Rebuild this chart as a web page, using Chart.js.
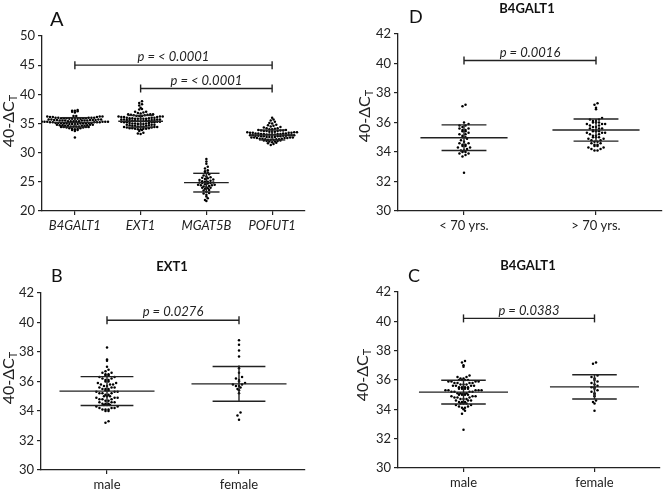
<!DOCTYPE html>
<html>
<head>
<meta charset="utf-8">
<script src="https://cdn.jsdelivr.net/npm/chart.js@4"></script>
<style>
  body { margin: 0; background: #fff; }
  canvas { position: absolute; }
</style>
</head>
<body>
<canvas id="panel-a" width="332" height="245" style="left:0;top:0"></canvas>
<canvas id="panel-d" width="332" height="245" style="left:332px;top:0"></canvas>
<canvas id="panel-b" width="332" height="245" style="left:0;top:245px"></canvas>
<canvas id="panel-c" width="332" height="245" style="left:332px;top:245px"></canvas>
<script>
// values (40 - delta Ct)
const b4galt1Male = [37.3, 37.2, 37.0, 36.9, 36.3, 36.2, 36.2, 36.1, 36.1, 36.0, 36.0, 36.0, 36.0,
  35.9, 35.9, 35.9, 35.9, 35.8, 35.8, 35.8, 35.8, 35.7, 35.7, 35.7, 35.6, 35.6, 35.6, 35.6,
  35.5, 35.5, 35.5, 35.5, 35.4, 35.4, 35.4, 35.4, 35.3, 35.3, 35.3, 35.3, 35.3, 35.2, 35.2,
  35.2, 35.2, 35.1, 35.1, 35.1, 35.1, 35.0, 35.0, 35.0, 35.0, 34.9, 34.9, 34.9, 34.8, 34.8,
  34.8, 34.7, 34.7, 34.7, 34.6, 34.6, 34.6, 34.5, 34.5, 34.5, 34.4, 34.4, 34.4, 34.3, 34.3,
  34.2, 34.2, 34.1, 34.1, 34.0, 33.9, 33.7, 32.6];
const b4galt1Female = [37.2, 37.1, 36.3, 36.2, 36.1, 36.0, 35.9, 35.8, 35.7, 35.6, 35.5, 35.5,
  35.4, 35.3, 35.2, 35.1, 35.0, 34.9, 34.6, 34.5, 34.4, 33.9];
const b4galt1Under70 = [37.2, 37.1, 36.0, 35.9, 35.8, 35.8, 35.7, 35.6, 35.6, 35.5, 35.5, 35.4,
  35.4, 35.3, 35.2, 35.2, 35.1, 35.0, 35.0, 34.9, 34.8, 34.7, 34.6, 34.6, 34.5, 34.5, 34.4,
  34.4, 34.3, 34.3, 34.2, 34.1, 34.1, 34.0, 34.0, 33.9, 33.9, 33.8, 33.7, 32.6];
const b4galt1Over70 = [37.3, 37.2, 37.0, 36.9, 36.3, 36.2, 36.2, 36.1, 36.1, 36.0, 36.0, 36.0,
  35.9, 35.9, 35.9, 35.8, 35.8, 35.7, 35.7, 35.6, 35.6, 35.6, 35.5, 35.5, 35.4, 35.4, 35.4,
  35.3, 35.3, 35.3, 35.2, 35.2, 35.1, 35.1, 35.0, 35.0, 35.0, 34.9, 34.9, 34.8, 34.8, 34.7,
  34.7, 34.6, 34.6, 34.5, 34.5, 34.4, 34.4, 34.3, 34.3, 34.2, 34.2, 34.1, 34.1];
const ext1Male = [38.3, 37.5, 37.4, 37.0, 36.8, 36.7, 36.6, 36.6, 36.5, 36.5, 36.4, 36.4, 36.3,
  36.3, 36.2, 36.2, 36.1, 36.1, 36.0, 36.0, 35.9, 35.9, 35.8, 35.8, 35.8, 35.7, 35.7, 35.6,
  35.6, 35.6, 35.5, 35.5, 35.5, 35.4, 35.4, 35.3, 35.3, 35.3, 35.2, 35.2, 35.2, 35.1, 35.1,
  35.0, 35.0, 35.0, 34.9, 34.9, 34.9, 34.8, 34.8, 34.8, 34.7, 34.7, 34.6, 34.6, 34.6, 34.5,
  34.5, 34.5, 34.4, 34.4, 34.4, 34.3, 34.3, 34.2, 34.2, 34.2, 34.1, 34.1, 34.1, 34.0, 34.0,
  33.3, 33.2];
const ext1Female = [38.8, 38.5, 38.1, 37.7, 37.0, 36.9, 36.6, 36.3, 36.2, 36.1, 36.0, 35.9, 35.8,
  35.8, 35.7, 35.7, 35.6, 35.5, 35.4, 35.2, 33.9, 33.7, 33.4];
const mgat5b = [28.9, 28.5, 28.1, 27.6, 27.3, 27.0, 26.8, 26.6, 26.5, 26.3, 26.1, 25.9, 25.8,
  25.7, 25.6, 25.5, 25.4, 25.3, 25.2, 25.1, 25.0, 25.0, 24.9, 24.9, 24.8, 24.8, 24.7, 24.6,
  24.5, 24.5, 24.4, 24.4, 24.3, 24.2, 24.1, 24.0, 24.0, 23.9, 23.8, 23.6, 23.5, 23.3, 23.1,
  23.0, 22.8, 22.5, 22.2, 21.9, 21.7];
const pofut1 = [36.0, 35.7, 35.5, 35.3, 35.1, 35.0, 34.8, 34.7, 34.6, 34.5, 34.4, 34.3, 34.2,
  34.2, 34.1, 34.0, 34.0, 33.9, 33.9, 33.8, 33.8, 33.8, 33.7, 33.7, 33.7, 33.6, 33.6, 33.6,
  33.5, 33.5, 33.5, 33.4, 33.4, 33.4, 33.4, 33.3, 33.3, 33.3, 33.3, 33.2, 33.2, 33.2, 33.2,
  33.1, 33.1, 33.1, 33.1, 33.0, 33.0, 33.0, 33.0, 33.0, 32.9, 32.9, 32.9, 32.9, 32.8, 32.8,
  32.8, 32.8, 32.7, 32.7, 32.7, 32.7, 32.6, 32.6, 32.6, 32.6, 32.5, 32.5, 32.5, 32.4, 32.4,
  32.4, 32.3, 32.3, 32.3, 32.2, 32.2, 32.2, 32.1, 32.1, 32.0, 32.0, 31.9, 31.9, 31.8, 31.7,
  31.6, 31.5, 31.3];

const genes = ["B4GALT1", "EXT1", "MGAT5B", "POFUT1"];
const sexes = ["male", "female"];
const ages = ["< 70 yrs.", "> 70 yrs."];

// mean and SD as drawn
const meansA = [35.2, 35.38, 24.86, 33.03];
const sdsA = [0.8, 1.0, 1.6, 0.85];
const meansB = [35.35, 35.84];
const sdsB = [0.98, 1.18];
const meansC = [35.17, 35.53];
const sdsC = [0.81, 0.83];
const meansD = [34.97, 35.49];
const sdsD = [0.87, 0.75];

const yTicksA = [20, 50, 5];
const yTicksBCD = [30, 42, 2];

const bracketsA = [[0, 3, 45, "p = < 0.0001"], [1, 3, 41, "p = < 0.0001"]];
const bracketsB = [[0, 1, 40.15, "p = 0.0276"]];
const bracketsC = [[0, 1, 40.2, "p = 0.0383"]];
const bracketsD = [[0, 1, 40.2, "p = 0.0016"]];

const FONT = "Lato, 'Open Sans', sans-serif";
const INK = "#222";

// spread tied values sideways, GraphPad-style
function swarm(values, center, bin, dx) {
  const rows = {};
  values.forEach(v => {
    const k = Math.round(v / bin);
    (rows[k] = rows[k] || []).push(v);
  });
  const pts = [];
  Object.values(rows).forEach(r => {
    r.sort((a, b) => a - b);
    const slots = r.map((_, j) => (j - (r.length - 1) / 2) * dx)
      .sort((a, b) => Math.abs(a) - Math.abs(b));
    r.forEach((v, j) => pts.push({ x: center + slots[j], y: v }));
  });
  return pts;
}

const deco = {
  id: "deco",
  afterDatasetsDraw(chart, args, o) {
    const { ctx, scales: { x, y } } = chart;
    const px = v => x.getPixelForValue(v);
    const py = v => y.getPixelForValue(v);
    const line = (x1, y1, x2, y2) => {
      ctx.beginPath();
      ctx.moveTo(x1, y1);
      ctx.lineTo(x2, y2);
      ctx.stroke();
    };
    ctx.save();
    ctx.strokeStyle = INK;
    ctx.lineWidth = 1.4;
    o.means.forEach((m, i) => {
      const s = o.sds[i];
      line(px(i - o.meanHalf), py(m), px(i + o.meanHalf), py(m));
      line(px(i - o.sdHalf), py(m + s), px(i + o.sdHalf), py(m + s));
      line(px(i - o.sdHalf), py(m - s), px(i + o.sdHalf), py(m - s));
      line(px(i), py(m - s), px(i), py(m + s));
    });
    ctx.fillStyle = INK;
    ctx.textAlign = "center";
    ctx.textBaseline = "middle";
    ctx.font = "italic 13px " + FONT;
    o.brackets.forEach(([a, b, v, t]) => {
      const yy = py(v);
      line(px(a), yy, px(b), yy);
      line(px(a), yy - 4, px(a), yy + 4);
      line(px(b), yy - 4, px(b), yy + 4);
      ctx.fillText(t, (px(a) + px(b)) / 2, yy - 8);
    });
    ctx.restore();
  },
  afterDraw(chart, args, o) {
    const { ctx } = chart;
    ctx.save();
    ctx.fillStyle = "#111";
    ctx.textBaseline = "middle";
    ctx.textAlign = "left";
    ctx.font = o.letterSize + "px " + FONT;
    ctx.fillText(o.letter, o.letterX, o.letterY);
    if (o.title) {
      ctx.textAlign = "center";
      ctx.font = "bold 13px " + FONT;
      ctx.fillText(o.title, o.titleX, o.titleY);
    }
    // y title 40-ΔC with subscript T
    ctx.translate(o.yTitleX, o.yTitleY);
    ctx.rotate(-Math.PI / 2);
    ctx.fillStyle = INK;
    ctx.font = "16px " + FONT;
    const main = "40-\u0394C";
    const w1 = ctx.measureText(main).width;
    ctx.font = "11px " + FONT;
    const w2 = ctx.measureText("T").width;
    ctx.textAlign = "left";
    ctx.font = "16px " + FONT;
    ctx.fillText(main, -(w1 + w2) / 2, 0);
    ctx.font = "11px " + FONT;
    ctx.fillText("T", -(w1 + w2) / 2 + w1, 4);
    ctx.restore();
  }
};

function makePanel(id, p) {
  const canvas = document.getElementById(id);
  const W = canvas.width, H = canvas.height;
  const points = p.groups.flatMap((g, i) => swarm(g, i, p.bin, p.dx));
  new Chart(canvas, {
    type: "scatter",
    data: {
      datasets: [{
        data: points,
        pointRadius: 1.25,
        pointHoverRadius: 1.25,
        borderWidth: 0,
        backgroundColor: "#000",
      }],
    },
    options: {
      responsive: false,
      animation: false,
      layout: {
        padding: { left: 0, top: p.area.top, right: W - p.area.right, bottom: 0 },
      },
      plugins: {
        legend: { display: false },
        tooltip: { enabled: false },
        deco: {
          means: p.means,
          sds: p.sds,
          meanHalf: p.meanHalf,
          sdHalf: p.sdHalf,
          brackets: p.brackets,
          letter: p.letter,
          letterX: p.letterX,
          letterY: p.letterY,
          letterSize: p.letterSize,
          title: p.title,
          titleX: p.titleX,
          titleY: p.titleY,
          yTitleX: p.yTitleX,
          yTitleY: p.yTitleY,
        },
      },
      scales: {
        x: {
          type: "linear",
          min: -0.5,
          max: p.cats.length - 0.5,
          afterBuildTicks: s => { s.ticks = p.cats.map((c, i) => ({ value: i })); },
          afterFit: s => { s.height = H - p.area.bottom; },
          ticks: {
            callback: v => p.cats[v],
            color: INK,
            padding: 3,
            maxRotation: 0,
            font: { family: FONT, size: 13, style: p.italic ? "italic" : "normal" },
          },
          grid: { drawOnChartArea: false, tickLength: 4, color: INK, lineWidth: 1.2 },
          border: { color: INK, width: 1.3 },
        },
        y: {
          min: p.yTicks[0],
          max: p.yTicks[1],
          afterFit: s => { s.width = p.area.left; },
          ticks: {
            stepSize: p.yTicks[2],
            color: INK,
            padding: 3,
            font: { family: FONT, size: 13 },
          },
          grid: { drawOnChartArea: false, tickLength: 4, color: INK, lineWidth: 1.2 },
          border: { color: INK, width: 1.3 },
        },
      },
    },
    plugins: [deco],
  });
}

makePanel("panel-a", {
  cats: genes,
  groups: [b4galt1Male.concat(b4galt1Female), ext1Male.concat(ext1Female), mgat5b, pofut1],
  means: meansA, sds: sdsA, yTicks: yTicksA, brackets: bracketsA,
  bin: 0.45, dx: 0.042, meanHalf: 0.34, sdHalf: 0.2, italic: true,
  area: { left: 42, right: 305, top: 36, bottom: 211 },
  letter: "A", letterX: 50, letterY: 20, letterSize: 20,
  yTitleX: 9, yTitleY: 121,
});
makePanel("panel-d", {
  cats: ages,
  groups: [b4galt1Under70, b4galt1Over70],
  means: meansD, sds: sdsD, yTicks: yTicksBCD, brackets: bracketsD,
  bin: 0.2, dx: 0.023, meanHalf: 0.33, sdHalf: 0.17,
  area: { left: 66, right: 330, top: 34, bottom: 211 },
  letter: "D", letterX: 77, letterY: 17, letterSize: 18,
  title: "B4GALT1", titleX: 195, titleY: 9,
  yTitleX: 33, yTitleY: 116,
});
makePanel("panel-b", {
  cats: sexes,
  groups: [ext1Male, ext1Female],
  means: meansB, sds: sdsB, yTicks: yTicksBCD, brackets: bracketsB,
  bin: 0.2, dx: 0.023, meanHalf: 0.36, sdHalf: 0.2,
  area: { left: 41, right: 305, top: 48, bottom: 225 },
  letter: "B", letterX: 51, letterY: 31, letterSize: 18,
  title: "EXT1", titleX: 172, titleY: 22,
  yTitleX: 9, yTitleY: 133,
});
makePanel("panel-c", {
  cats: sexes,
  groups: [b4galt1Male, b4galt1Female],
  means: meansC, sds: sdsC, yTicks: yTicksBCD, brackets: bracketsC,
  bin: 0.2, dx: 0.023, meanHalf: 0.34, sdHalf: 0.17,
  area: { left: 66, right: 328, top: 47, bottom: 223 },
  letter: "C", letterX: 76, letterY: 31, letterSize: 18,
  title: "B4GALT1", titleX: 196, titleY: 21,
  yTitleX: 31, yTitleY: 130,
});
</script>
</body>
</html>
